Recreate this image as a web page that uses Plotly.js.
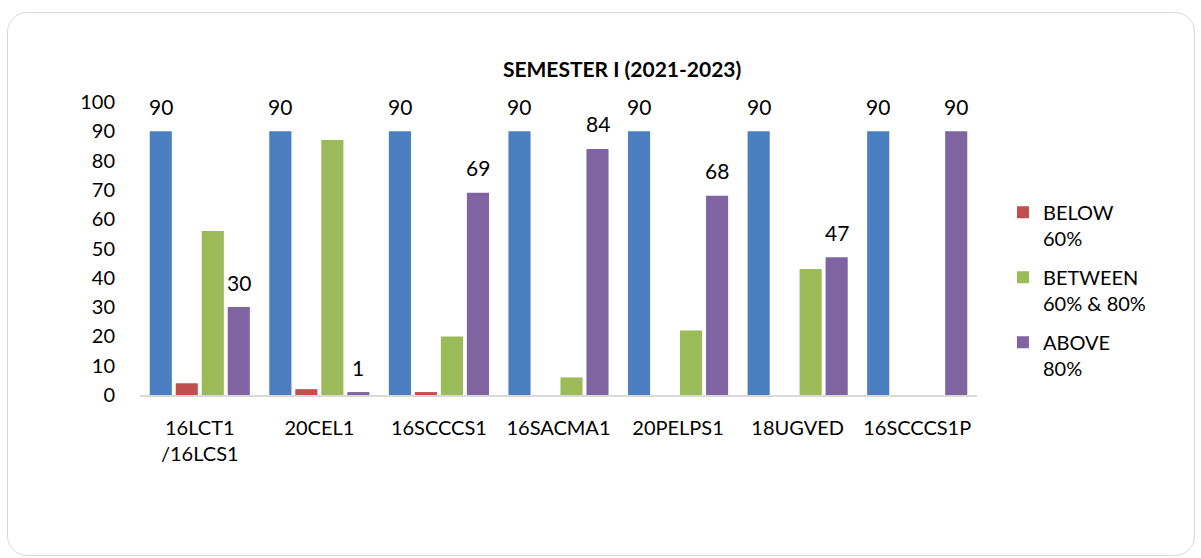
<!DOCTYPE html>
<html>
<head>
<meta charset="utf-8">
<script src="https://cdn.plot.ly/plotly-3.0.1.min.js"></script>
<style>
  html, body { margin: 0; padding: 0; background: #ffffff; }
  #chart { position: absolute; left: 0; top: 0; width: 1201px; height: 558px; }
  #frame { position: absolute; left: 7px; top: 12px; width: 1186px; height: 542px;
           border: 1.5px solid #d9d9d9; border-radius: 20px; pointer-events: none; }
</style>
</head>
<body>
<div id="chart"></div>
<div id="frame"></div>
<script>
const categories = ["16LCT1<br>/16LCS1", "20CEL1", "16SCCCS1", "16SACMA1", "20PELPS1", "18UGVED", "16SCCCS1P"];
const totalValues = [90, 90, 90, 90, 90, 90, 90];
const belowValues = [4, 2, 1, 0, 0, 0, 0];
const betweenValues = [56, 87, 20, 6, 22, 43, 0];
const aboveValues = [30, 1, 69, 84, 68, 47, 90];
const seriesNames = ["TOTAL", "BELOW<br>60%", "BETWEEN<br>60% & 80%", "ABOVE<br>80%"];

const FONT = "Lato, 'Open Sans', sans-serif";
const colors = ["#4b7ec0", "#c0504d", "#9bbb59", "#8064a2"];
const BARGAP = 0.13;

const seriesValues = [totalValues, belowValues, betweenValues, aboveValues];
const traces = seriesValues.map((vals, s) => ({
  type: "bar",
  name: seriesNames[s],
  x: categories,
  y: vals,
  marker: { color: colors[s] },
  showlegend: s !== 0,
  legendgroup: "g" + s,
  hoverinfo: "x+y+name"
}));

// data labels for TOTAL and ABOVE series, positioned through axis scales
const slot = (1 - BARGAP) / 4;
const annotations = [];
[0, 3].forEach(s => {
  seriesValues[s].forEach((v, i) => {
    annotations.push({
      x: i + (s - 1.5) * slot,
      y: v,
      xref: "x", yref: "y",
      text: String(v),
      showarrow: false,
      yanchor: "middle",
      yshift: 25,
      font: { family: FONT, size: 21, color: "#000000" }
    });
  });
});

const layout = {
  width: 1201,
  height: 558,
  margin: { l: 140, r: 224, t: 102, b: 162.5 },
  paper_bgcolor: "rgba(0,0,0,0)",
  plot_bgcolor: "rgba(0,0,0,0)",
  font: { family: FONT, size: 20, color: "#000000" },
  barmode: "group",
  bargap: BARGAP,
  bargroupgap: 0.15,
  title: {
    text: "<b>SEMESTER I (2021-2023)</b>",
    font: { family: FONT, size: 21, color: "#000000" },
    x: 0.576, xref: "paper", xanchor: "center",
    y: 1 - 70 / 558, yref: "container", yanchor: "middle"
  },
  xaxis: {
    type: "category",
    showline: true, linecolor: "#d9d9d9", linewidth: 2,
    showgrid: false, zeroline: false,
    ticks: "outside", ticklen: 14, tickcolor: "rgba(0,0,0,0)",
    tickfont: { family: FONT, size: 20, color: "#000000" }
  },
  yaxis: {
    range: [0, 100],
    dtick: 10,
    showgrid: false, zeroline: false, showline: false,
    ticks: "outside", ticklen: 20, tickcolor: "rgba(0,0,0,0)",
    tickfont: { family: FONT, size: 20, color: "#000000" }
  },
  legend: {
    x: 1.031, xanchor: "left",
    y: 0.69, yanchor: "top",
    valign: "top",
    traceorder: "grouped",
    tracegroupgap: 10,
    font: { family: FONT, size: 20, color: "#000000" },
    bgcolor: "rgba(0,0,0,0)"
  },
  annotations: annotations
};

Plotly.newPlot("chart", traces, layout, { displayModeBar: false, staticPlot: true });
</script>
</body>
</html>
